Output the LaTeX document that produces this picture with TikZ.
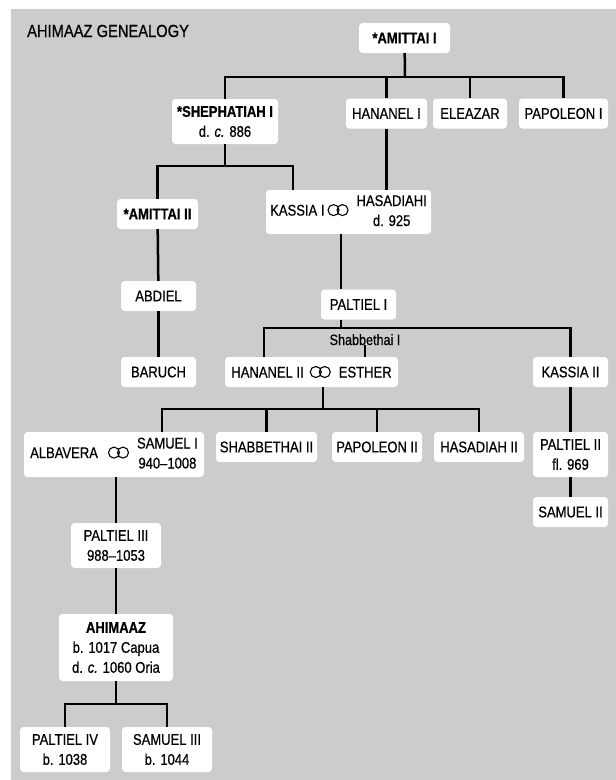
\documentclass[tikz,border=0pt]{standalone}
\usepackage{fontspec}
\setmainfont{Liberation Sans}[FakeStretch=0.84, FakeBold=0.6]
\usetikzlibrary{positioning}
\definecolor{bggray}{RGB}{204,204,204}
\newcommand{\wed}{\tikz[baseline=-5.5pt]\draw[line width=1.1pt, fill=none] (0pt,0pt) circle[radius=5.5pt] (9pt,0pt) circle[radius=5.5pt];}

\begin{document}
\begin{tikzpicture}[x=1pt, y=-1pt]
 \tikzstyle{pnode}=[rectangle, fill=white, rounded corners=3.5pt, inner sep=2pt, align=center, font=\fontsize{15.5}{20}\selectfont]
 \tikzstyle{line} = [draw, line width=2.5pt]

 \useasboundingbox (0,0) rectangle (616,780);
 \fill[bggray] (11,9) rectangle (616,780);
 \draw (27,37) node[anchor=base west, inner sep=0pt, font=\fontsize{17.5}{20}\selectfont] (title) {AHIMAAZ GENEALOGY};

 % first generations
 \draw (404.5,38) node[pnode, minimum width=91pt, minimum height=30pt] (amittaiI) {\textbf{*AMITTAI I}};
 \draw (225,121.5) node[pnode, minimum width=106pt, minimum height=45pt] (shephI) {\textbf{*SHEPHATIAH I}\\d. \textit{c.} 886};
 \draw (386.5,113.5) node[pnode, minimum width=81pt, minimum height=30pt] (hananelI) {HANANEL I};
 \draw (470,113.5) node[pnode, minimum width=74pt, minimum height=30pt] (eleazar) {ELEAZAR};
 \draw (563.5,113.5) node[pnode, minimum width=89pt, minimum height=30pt] (papoleonI) {PAPOLEON I};
 \draw (157.5,214) node[pnode, minimum width=81pt, minimum height=30pt] (amittaiII) {\textbf{*AMITTAI II}};
 \draw (348.5,212) node[pnode, minimum width=165pt, minimum height=44pt] (kassiaI) {KASSIA I\hspace{3pt}\wed\hspace{8pt}\begin{tabular}{@{}c@{}}HASADIAHI\\d. 925\end{tabular}};
 \draw (158.5,296) node[pnode, minimum width=75pt, minimum height=30pt] (abdiel) {ABDIEL};
 \draw (158.5,372) node[pnode, minimum width=75pt, minimum height=30pt] (baruch) {BARUCH};
 \draw (358.5,304.5) node[pnode, minimum width=75pt, minimum height=30pt] (paltielI) {PALTIEL I};
 \draw (365,345) node[anchor=base, inner sep=0pt, font=\fontsize{15}{18}\selectfont] (shabI) {Shabbethai I};
 \draw (311.5,372) node[pnode, minimum width=173pt, minimum height=30pt] (hananelII) {HANANEL II\hspace{6pt}\wed\hspace{8pt}ESTHER};
 \draw (570.5,372) node[pnode, minimum width=75pt, minimum height=30pt] (kassiaII) {KASSIA II};

 % later generations
 \draw (114,454.5) node[pnode, minimum width=180pt, minimum height=45pt] (samuelI) {ALBAVERA\hspace{10pt}\wed\hspace{8pt}\begin{tabular}{@{}c@{}}SAMUEL I\\940--1008\end{tabular}};
 \draw (266.5,447) node[pnode, minimum width=101pt, minimum height=30pt] (shabbethaiII) {SHABBETHAI II};
 \draw (377,447) node[pnode, minimum width=90pt, minimum height=30pt] (papoleonII) {PAPOLEON II};
 \draw (479,447) node[pnode, minimum width=90pt, minimum height=30pt] (hasadiahII) {HASADIAH II};
 \draw (570.5,454.5) node[pnode, minimum width=75pt, minimum height=45pt] (paltielII) {PALTIEL II\\fl. 969};
 \draw (570.5,512) node[pnode, minimum width=75pt, minimum height=30pt] (samuelII) {SAMUEL II};
 \draw (116,545.5) node[pnode, minimum width=90pt, minimum height=45pt] (paltielIII) {PALTIEL III\\988--1053};
 \draw (116,647.5) node[pnode, minimum width=114pt, minimum height=67pt] (ahimaaz) {\textbf{AHIMAAZ}\\b. 1017 Capua\\d. \textit{c.} 1060 Oria};
 \draw (65,749.5) node[pnode, minimum width=90pt, minimum height=45pt] (paltielIV) {PALTIEL IV\\b. 1038};
 \draw (167,749.5) node[pnode, minimum width=90pt, minimum height=45pt] (samuelIII) {SAMUEL III\\b. 1044};

 % descent lines
 \coordinate (b1) at (405,77);
 \path [line] (amittaiI) -- (b1);
 \path [line] (shephI) |- (b1) -| (papoleonI);
 \path [line] (hananelI) -- (hananelI |- b1);
 \path [line] (eleazar) -- (eleazar |- b1);

 \coordinate (b2) at (225,166);
 \coordinate (b2r) at (293,166);
 \path [line] (shephI) -- (b2);
 \path [line] (amittaiII) |- (b2r) -- (b2r |- kassiaI.north);
 \path [line] (hananelI) -- (hananelI |- kassiaI.north);
 \path [line] (amittaiII) -- (abdiel);
 \path [line] (abdiel) -- (baruch);

 \coordinate (b3) at (341,328);
 \coordinate (b3l) at (264,328);
 \path [line] (kassiaI.south -| b3) -- (paltielI.north -| b3);
 \path [line] (paltielI.south -| b3) -- (b3);
 \path [line] (hananelII.north -| b3l) -- (b3l) -| (kassiaII);
 \path [line] (shabI.south) -- (shabI.south |- hananelII.north);

 \coordinate (b4) at (323,409);
 \coordinate (b4l) at (162,409);
 \path [line] (hananelII.south -| b4) -- (b4);
 \path [line] (samuelI.north -| b4l) -- (b4l) -| (hasadiahII);
 \path [line] (shabbethaiII) -- (shabbethaiII |- b4);
 \path [line] (papoleonII) -- (papoleonII |- b4);

 \path [line] (kassiaII) -- (paltielII);
 \path [line] (paltielII) -- (samuelII);

 \coordinate (b5) at (116,704);
 \path [line] (samuelI.south -| paltielIII) -- (paltielIII);
 \path [line] (paltielIII) -- (ahimaaz);
 \path [line] (ahimaaz) -- (b5);
 \path [line] (paltielIV) |- (b5) -| (samuelIII);
\end{tikzpicture}
\end{document}
